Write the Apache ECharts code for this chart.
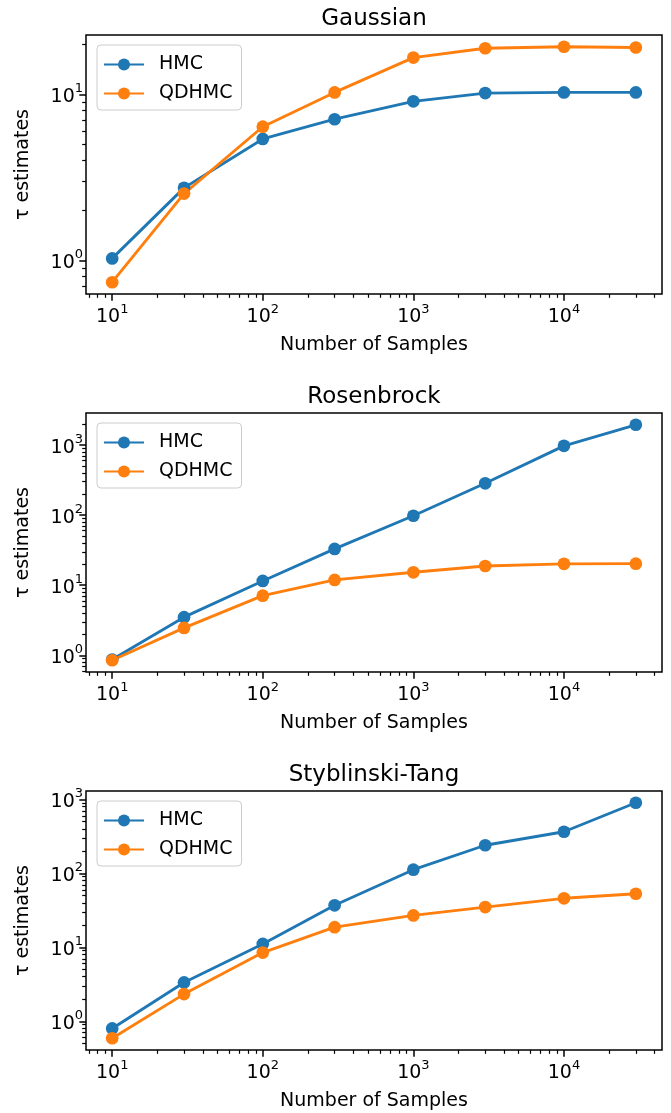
<!DOCTYPE html>
<html>
<head>
<meta charset="utf-8">
<title>tau estimates</title>
<script src="https://cdn.jsdelivr.net/npm/echarts@6/dist/echarts.min.js"></script>
<style>
  html, body { margin: 0; padding: 0; background: #fff; }
  #chart { width: 671px; height: 1113px; }
</style>
</head>
<body>
<div id="chart"></div>
<script>
// number of samples (x) and tau estimates per target
var samples = [10, 30, 100, 300, 1000, 3000, 10000, 30000];
var gaussianHMC = [1.03, 2.74, 5.4, 7.1, 9.1, 10.2, 10.3, 10.3];
var gaussianQDHMC = [0.74, 2.53, 6.4, 10.3, 16.7, 19.0, 19.4, 19.2];
var rosenbrockHMC = [0.87, 3.5, 11.5, 33, 98, 285, 975, 1950];
var rosenbrockQDHMC = [0.85, 2.46, 7.1, 11.9, 15.3, 18.8, 20.2, 20.3];
var styblinskiHMC = [0.80, 3.35, 11.1, 37, 112, 240, 365, 900];
var styblinskiQDHMC = [0.59, 2.33, 8.5, 18.7, 27, 35, 46, 53];

var titles = ['Gaussian', 'Rosenbrock', 'Styblinski-Tang'];
var seriesNames = ['HMC', 'QDHMC'];
// exponents of the labelled decades
var xDecades = [1, 2, 3, 4];
var yDecades = [[0, 1], [0, 1, 2, 3], [0, 1, 2, 3]];

var panels = [
  [gaussianHMC, gaussianQDHMC],
  [rosenbrockHMC, rosenbrockQDHMC],
  [styblinskiHMC, styblinskiQDHMC]
];
var colors = ['#1f77b4', '#ff7f0e'];
var tops = [35, 413, 791];
var plotH = 259;
var font = 'DejaVu Sans';

function log10(v) { return Math.log(v) / Math.LN10; }

// matplotlib style 5% margin, in log space
function padded(vals) {
  var lo = Math.min.apply(null, vals), hi = Math.max.apply(null, vals);
  var p = (hi - lo) * 0.05;
  return [lo - p, hi + p];
}

function minorTicks(range) {
  var out = [];
  for (var n = Math.floor(range[0]); n <= Math.ceil(range[1]); n++) {
    for (var k = 2; k < 10; k++) {
      var v = n + log10(k);
      if (v >= range[0] && v <= range[1]) out.push(v);
    }
  }
  return out;
}

function powLabel(v) { return '{b|10}{s|' + Math.round(v) + '}'; }

var rich = {
  b: { fontFamily: font, fontSize: 19, color: '#000', lineHeight: 24, verticalAlign: 'bottom' },
  s: { fontFamily: font, fontSize: 13, color: '#000', lineHeight: 14, verticalAlign: 'top' }
};

var xLogs = samples.map(log10);
var xRange = padded(xLogs);

var grid = [], xAxis = [], yAxis = [], series = [], title = [], legend = [];

panels.forEach(function (pair, i) {
  var allY = pair[0].concat(pair[1]).map(log10);
  var yRange = padded(allY);

  grid.push({
    left: 86, width: 576, top: tops[i], height: plotH,
    show: true, borderColor: '#000', borderWidth: 1.5, backgroundColor: 'transparent'
  });

  title.push({
    text: titles[i], left: 374, top: tops[i] - 27.5, textAlign: 'center', padding: 0,
    textStyle: { fontFamily: font, fontSize: 23, fontWeight: 'normal', color: '#000' }
  });

  legend.push({
    orient: 'vertical', left: 97, top: tops[i] + 10,
    data: seriesNames, itemWidth: 40, itemHeight: 15, itemGap: 10,
    padding: [10, 9, 7, 6],
    backgroundColor: 'rgba(255,255,255,0.8)', borderColor: '#cccccc', borderWidth: 1, borderRadius: 4,
    textStyle: { fontFamily: font, fontSize: 19, color: '#000', padding: [0, 0, 0, 10] }
  });

  // major axes (labels + long ticks)
  xAxis.push({
    type: 'value', gridIndex: i, position: 'bottom', min: xRange[0], max: xRange[1],
    axisLine: { show: false, onZero: false },
    axisTick: { show: true, customValues: xDecades, length: 6.7, lineStyle: { color: '#000', width: 1.5 } },
    axisLabel: { customValues: xDecades, formatter: powLabel, margin: 9, rich: rich },
    splitLine: { show: false },
    name: 'Number of Samples', nameLocation: 'middle', nameGap: 42,
    nameTextStyle: { fontFamily: font, fontSize: 19, color: '#000' }
  });
  // minor ticks
  xAxis.push({
    type: 'value', gridIndex: i, position: 'bottom', min: xRange[0], max: xRange[1],
    axisLine: { show: false, onZero: false },
    axisTick: { show: true, customValues: minorTicks(xRange), length: 3.8, lineStyle: { color: '#000', width: 1.2 } },
    axisLabel: { show: false },
    splitLine: { show: false }
  });

  yAxis.push({
    type: 'value', gridIndex: i, position: 'left', min: yRange[0], max: yRange[1],
    axisLine: { show: false, onZero: false },
    axisTick: { show: true, customValues: yDecades[i], length: 6.7, lineStyle: { color: '#000', width: 1.5 } },
    axisLabel: { customValues: yDecades[i], formatter: powLabel, margin: 3, rich: rich },
    splitLine: { show: false },
    name: 'τ estimates', nameLocation: 'middle', nameGap: 53, nameMoveOverlap: false,
    nameTextStyle: { fontFamily: font, fontSize: 19, color: '#000' }
  });
  yAxis.push({
    type: 'value', gridIndex: i, position: 'left', min: yRange[0], max: yRange[1],
    axisLine: { show: false, onZero: false },
    axisTick: { show: true, customValues: minorTicks(yRange), length: 3.8, lineStyle: { color: '#000', width: 1.2 } },
    axisLabel: { show: false },
    splitLine: { show: false }
  });

  pair.forEach(function (vals, s) {
    series.push({
      name: seriesNames[s], type: 'line',
      xAxisIndex: 2 * i, yAxisIndex: 2 * i,
      data: samples.map(function (n, j) { return [log10(n), log10(vals[j])]; }),
      symbol: 'circle', symbolSize: 12.7, showSymbol: true,
      lineStyle: { color: colors[s], width: 2.85 },
      itemStyle: { color: colors[s], borderWidth: 0 },
      emphasis: { disabled: true }
    });
  });
});

var myChart = echarts.init(document.getElementById('chart'), null, { renderer: 'canvas' });
myChart.setOption({
  backgroundColor: '#fff',
  animation: false,
  title: title,
  legend: legend,
  grid: grid,
  xAxis: xAxis,
  yAxis: yAxis,
  series: series
});
</script>
</body>
</html>
